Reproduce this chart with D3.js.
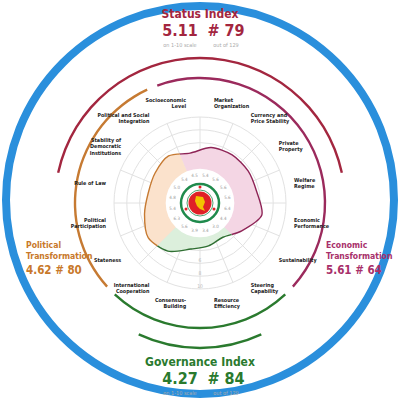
<!DOCTYPE html>
<html><head><meta charset="utf-8">
<script src="https://cdn.jsdelivr.net/npm/d3@7"></script>
<style>body{margin:0;background:#fff}svg{display:block;font-family:"DejaVu Sans Condensed","Liberation Sans",sans-serif}</style>
</head><body><svg id="c" width="400" height="400"></svg>
<script>
// criteria clockwise, starting just right of 12 o'clock
const criteria = [
  ["Market","Organization"], ["Currency and","Price Stability"], ["Private","Property"], ["Welfare","Regime"],
  ["Economic","Performance"], ["Sustainability"], ["Steering","Capability"], ["Resource","Efficiency"],
  ["Consensus-","Building"], ["International","Cooperation"], ["Stateness"], ["Political","Participation"],
  ["Rule of Law"], ["Stability of","Democratic","Institutions"], ["Political and Social","Integration"], ["Socioeconomic","Level"]
];
const scores = [5.4, 5.6, 5.6, 5.6, 6.4, 4.4, 3.0, 3.4, 3.9, 5.6, 6.3, 5.4, 4.8, 5.0, 5.4, 4.5];
const groups = [
  {name:"economic", from:-22.5, to:135, fill:"#f4d6e4", stroke:"#8e2456"},
  {name:"governance", from:135, to:225, fill:"#dcefdc", stroke:"#2f6f32"},
  {name:"political", from:225, to:337.5, fill:"#fbe2cc", stroke:"#c67a32"}
];
const ringTicks = [2, 4, 6, 8, 10];

const svg = d3.select("#c");
const cx = 200, cy = 203;
const g = svg.append("g").attr("transform", `translate(${cx},${cy})`);
const step = 360 / criteria.length;
const ang = d3.scaleLinear().domain([0, criteria.length]).range([step / 2, 360 + step / 2]);
const r = d3.scaleLinear().domain([0, 10]).range([22, 86]);
const rad = a => a * Math.PI / 180;
const pt = (a, rr) => [rr * Math.sin(rad(a)), -rr * Math.cos(rad(a))];

// outer blue ring
svg.append("circle").attr("cx", 200).attr("cy", 200).attr("r", 194)
  .attr("fill", "none").attr("stroke", "#2a8fdc").attr("stroke-width", 8);

// index arcs
const arcs = [
  {r:145, a0:-78, a1:78, c:"#a3263f"},
  {r:125, a0:-20, a1:132, c:"#9b2a5c"},
  {r:125, a0:-132, a1:-25, c:"#c67a32"},
  {r:125, a0:137, a1:223, c:"#2a7a2e"},
  {r:145, a0:155, a1:205, c:"#2a7a2e"}
];
arcs.forEach(d => g.append("path")
  .attr("d", d3.arc()({innerRadius:d.r - 1.2, outerRadius:d.r + 1.2, startAngle:rad(d.a0), endAngle:rad(d.a1)}))
  .attr("fill", d.c));

// grid
ringTicks.forEach(t => g.append("circle").attr("r", r(t)).attr("fill", "none").attr("stroke", "#e2e2e2").attr("stroke-width", 1));
criteria.forEach((c, i) => {
  const a = ang(i) - step / 2;
  const p0 = pt(a, r(2)), p1 = pt(a, r(10));
  g.append("line").attr("x1", p0[0]).attr("y1", p0[1]).attr("x2", p1[0]).attr("y2", p1[1]).attr("stroke", "#e2e2e2");
});

// shape
const pts = scores.map((v, i) => pt(ang(i), r(v)));
const shape = d3.line().curve(d3.curveCardinalClosed.tension(0.2))(pts);
groups.forEach((gr, k) => {
  svg.append("clipPath").attr("id", "cl" + k).append("path")
    .attr("d", d3.arc()({innerRadius:0, outerRadius:120, startAngle:rad(gr.from), endAngle:rad(gr.to)}))
    .attr("transform", `translate(${cx},${cy})`);
  const cg = svg.append("g").attr("clip-path", `url(#cl${k})`).append("g").attr("transform", `translate(${cx},${cy})`);
  cg.append("path").attr("d", shape).attr("fill", gr.fill).attr("stroke", "none");
  cg.append("path").attr("d", shape).attr("fill", "none").attr("stroke", gr.stroke).attr("stroke-width", 1.4);
});

// center emblem and value ring, on top of the shape
const c = svg.append("g").attr("transform", `translate(${cx},${cy})`);
ringTicks.slice(2).forEach(t => c.append("text").attr("x", 0).attr("y", r(t) - 1)
  .attr("text-anchor", "middle").attr("font-size", 5).attr("fill", "#bbb").text(t));
c.append("circle").attr("r", r(2) - 0.5).attr("fill", "#fff");
scores.forEach((v, i) => {
  const p = pt(ang(i), 28);
  c.append("text").attr("x", p[0]).attr("y", p[1] + 1.6).attr("text-anchor", "middle")
    .attr("font-size", 4.5).attr("fill", "#999").text(v.toFixed(1));
});
c.append("circle").attr("r", 19).attr("fill", "#fff").attr("stroke", "#1f8a4c").attr("stroke-width", 2.5);
c.append("circle").attr("r", 13).attr("fill", "none").attr("stroke", "#1f8a4c").attr("stroke-width", 0.8);
c.append("circle").attr("r", 11.5).attr("fill", "#e02027");
c.append("path").attr("d", "M-4,-7 L3,-6 L5,-1 L3,4 L5,8 L0,6 L-3,3 L-5,-2 Z").attr("fill", "#f2c200");
[[-14,6],[14,6],[0,-16]].forEach(p => c.append("circle").attr("cx", p[0]).attr("cy", p[1]).attr("r", 1.5).attr("fill", "#e02027"));

// criterion labels
criteria.forEach((cr, i) => {
  const a = ang(i), p = pt(a, 102);
  const s = Math.sin(rad(a));
  const anchor = s > 0 ? "start" : "end";
  const t = g.append("text").attr("text-anchor", anchor)
    .attr("font-size", 5.4).attr("font-weight", "bold").attr("fill", "#222");
  const y0 = p[1] - (cr.length - 1) * 3.1 + 2;
  cr.forEach((line, j) => t.append("tspan").attr("x", p[0] + (s > 0 ? -6 : 6)).attr("y", y0 + j * 6.2).text(line));
});

// headline blocks
function block(x, y, anchor, color, title, score, rank, small) {
  const t = svg.append("g").attr("fill", color).attr("font-weight", "bold").attr("text-anchor", anchor);
  title.forEach((l, j) => t.append("text").attr("x", x).attr("y", y + j * 10.5).attr("font-size", small ? 8.6 : 12).text(l));
  const yy = y + (title.length - 1) * 10.5 + (small ? 15 : 18);
  if (small) {
    t.append("text").attr("x", x).attr("y", yy).attr("font-size", 11.5).text(`${score}   ${rank}`);
  } else {
    t.append("text").attr("x", x - 20).attr("y", yy).attr("font-size", 16).attr("text-anchor", "middle").text(score);
    t.append("text").attr("x", x + 26).attr("y", yy).attr("font-size", 16).attr("text-anchor", "middle").text(rank);
    t.append("text").attr("x", x - 20).attr("y", yy + 11).attr("font-size", 5.5).attr("font-weight", "normal").attr("fill", "#aaa").attr("text-anchor", "middle").text("on 1-10 scale");
    t.append("text").attr("x", x + 26).attr("y", yy + 11).attr("font-size", 5.5).attr("font-weight", "normal").attr("fill", "#aaa").attr("text-anchor", "middle").text("out of 129");
  }
}
block(200, 18, "middle", "#a3263f", ["Status Index"], "5.11", "# 79", false);
block(200, 366, "middle", "#2a7a2e", ["Governance Index"], "4.27", "# 84", false);
block(26, 248, "start", "#c8782a", ["Political", "Transformation"], "4.62", "# 80", true);
block(326, 248, "start", "#a8306a", ["Economic", "Transformation"], "5.61", "# 64", true);
</script></body></html>
